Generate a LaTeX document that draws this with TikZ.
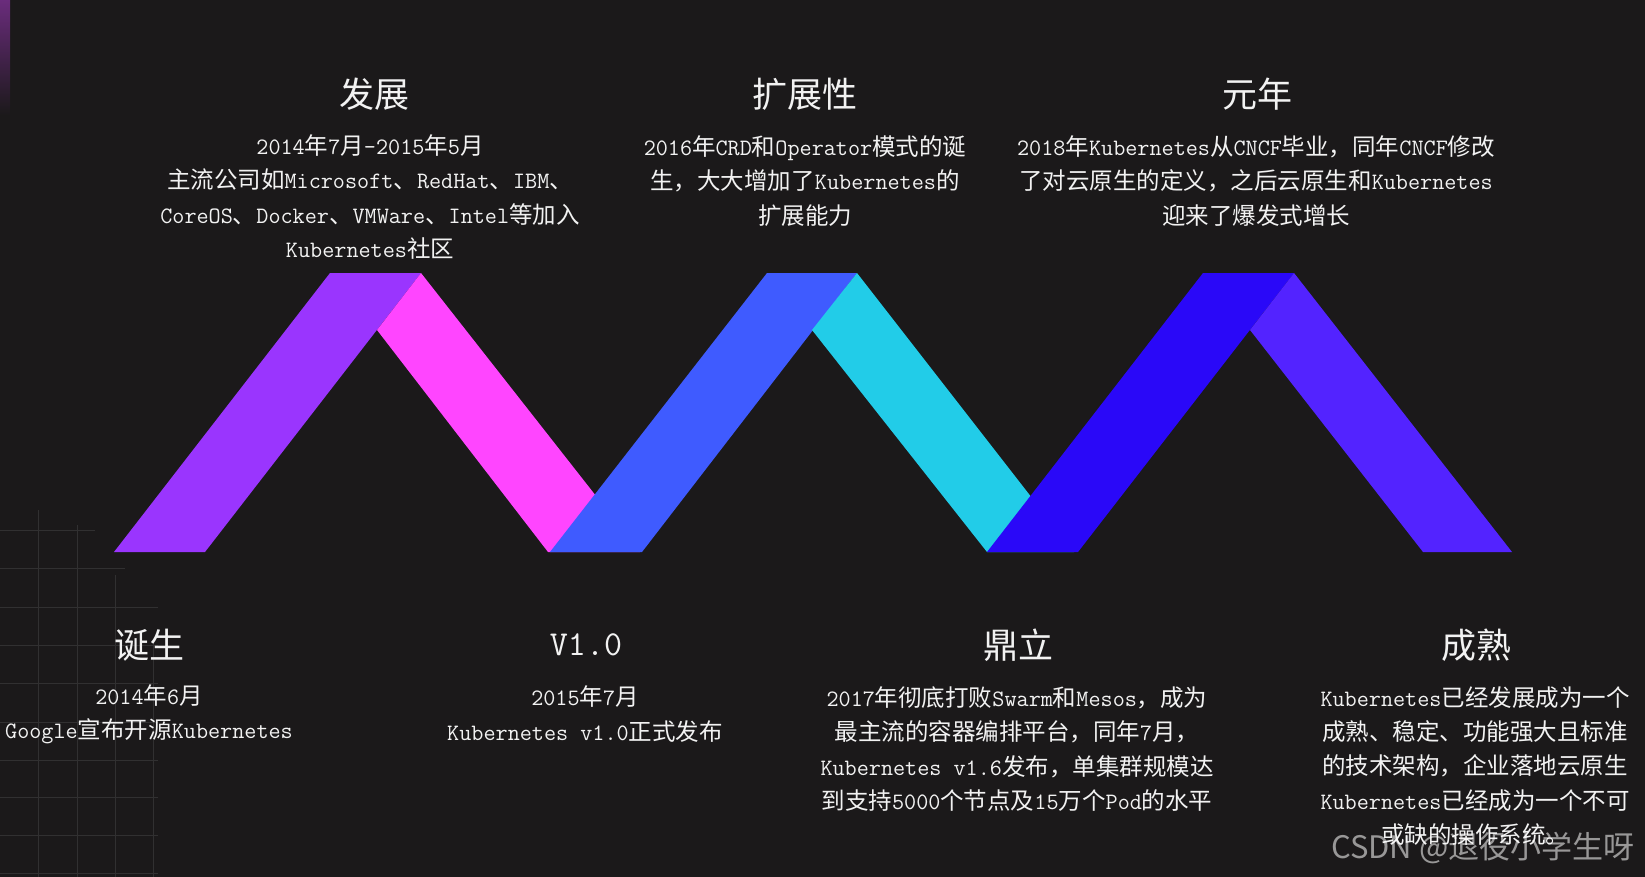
\documentclass[tikz,border=0pt]{standalone}
\usepackage{fontspec}
\newfontfamily\cjk{Noto Sans CJK SC}
\newfontfamily\wmfont{Noto Sans CJK SC}
\definecolor{bg}{HTML}{1B191A}
\definecolor{fg}{HTML}{F2F2F2}
\definecolor{gridc}{HTML}{313031}
\definecolor{glow}{HTML}{6A2C7C}
\definecolor{cpurple}{HTML}{9A35FE}
\definecolor{cpink}{HTML}{FF45FF}
\definecolor{cblue}{HTML}{3F5BFF}
\definecolor{ccyan}{HTML}{22CCE8}
\definecolor{cdark}{HTML}{2A08F8}
\definecolor{cviolet}{HTML}{5323FF}
% automatic font switch: CJK -> Noto Sans CJK SC, Latin -> Latin Modern Mono
\XeTeXinterchartokenstate=1
\newXeTeXintercharclass\cjkcls
\newcount\cjkc
\cjkc="3000 \loop\XeTeXcharclass\cjkc=\cjkcls \advance\cjkc by 1 \ifnum\cjkc<"3040 \repeat
\cjkc="4E00 \loop\XeTeXcharclass\cjkc=\cjkcls \advance\cjkc by 1 \ifnum\cjkc<"A000 \repeat
\cjkc="FF00 \loop\XeTeXcharclass\cjkc=\cjkcls \advance\cjkc by 1 \ifnum\cjkc<"FFF0 \repeat
\XeTeXinterchartoks 0 \cjkcls = {\cjk}
\XeTeXinterchartoks 4095 \cjkcls = {\cjk}
\XeTeXinterchartoks \cjkcls 0 = {\ttfamily}
\XeTeXinterchartoks 4095 0 = {\ttfamily}
\newcommand\wmsetup{\XeTeXinterchartokenstate=0\relax\wmfont\fontsize{31}{36}\selectfont}
\tikzset{
  txt/.style={text=fg, align=center, inner sep=0pt, font=\ttfamily\fontsize{23.5}{34.3}\selectfont},
  ttl/.style={text=fg, inner sep=0pt, font=\ttfamily\fontsize{35}{40}\selectfont},
  wm/.style={text=white, text opacity=0.55, inner sep=0pt, font=\wmsetup},
  gridline/.style={draw=gridc, line width=1pt}
}
\begin{document}
\begin{tikzpicture}[x=1pt,y=-1pt]
\fill[bg] (0,0) rectangle (1645,877);
\useasboundingbox (0,0) rectangle (1645,877);
% top-left glow
\shade[top color=glow, bottom color=bg] (0,0) rectangle (10,115);
% faint grid bottom-left
\foreach \x/\ys in {38/510,77/525,115/575,153/640}
  \draw[gridline] (\x,\ys) -- (\x,877);
\foreach \y/\xe in {530/95,568/125,607/158,645/158,683/158,722/158,760/158,797/158,835/158,873/158}
  \draw[gridline] (0,\y) -- (\xe,\y);
% ribbon
\fill[cpurple] (114,552) -- (205,552) -- (421,273) -- (330,273) -- cycle;
\fill[cpink]   (377,330) -- (421,273) -- (640,552) -- (548,552) -- cycle;
\fill[cblue]   (550,552) -- (642,552) -- (857,273) -- (767,273) -- cycle;
\fill[ccyan]   (812,330) -- (857,273) -- (1074,552) -- (987,552) -- cycle;
\fill[cdark]   (987,552) -- (1078,552) -- (1294,273) -- (1203,273) -- cycle;
\fill[cviolet] (1250,330) -- (1294,273) -- (1512,552) -- (1423,552) -- cycle;
% top texts
\node[ttl] (t1) at (374,94) {发展};
\node[txt] (d1) at (370,197) {2014年7月-2015年5月\\主流公司如Microsoft、RedHat、IBM、\\CoreOS、Docker、VMWare、Intel等加入\\Kubernetes社区};
\node[ttl] (t2) at (805,94) {扩展性};
\node[txt] (d2) at (805,181) {2016年CRD和Operator模式的诞\\生，大大增加了Kubernetes的\\扩展能力};
\node[ttl] (t3) at (1257,94) {元年};
\node[txt] (d3) at (1256,181) {2018年Kubernetes从CNCF毕业，同年CNCF修改\\了对云原生的定义，之后云原生和Kubernetes\\迎来了爆发式增长};
% bottom texts
\node[ttl] (b1) at (149,645) {诞生};
\node[txt] (e1) at (149,714) {2014年6月\\Google宣布开源Kubernetes};
\node[ttl] (b2) at (586,645) {V1.0};
\node[txt] (e2) at (585,714) {2015年7月\\Kubernetes v1.0正式发布};
\node[ttl] (b3) at (1018,645) {鼎立};
\node[txt] (e3) at (1017,749) {2017年彻底打败Swarm和Mesos，成为\\最主流的容器编排平台，同年7月，\\Kubernetes v1.6发布，单集群规模达\\到支持5000个节点及15万个Pod的水平};
\node[ttl] (b4) at (1476,645) {成熟};
\node[txt] (e4) at (1475,766) {Kubernetes已经发展成为一个\\成熟、稳定、功能强大且标准\\的技术架构，企业落地云原生\\Kubernetes已经成为一个不可\\或缺的操作系统。};
% watermark
\node[wm, anchor=west] (wm) at (1331,848) {CSDN @退役小学生呀};
\end{tikzpicture}
\end{document}
